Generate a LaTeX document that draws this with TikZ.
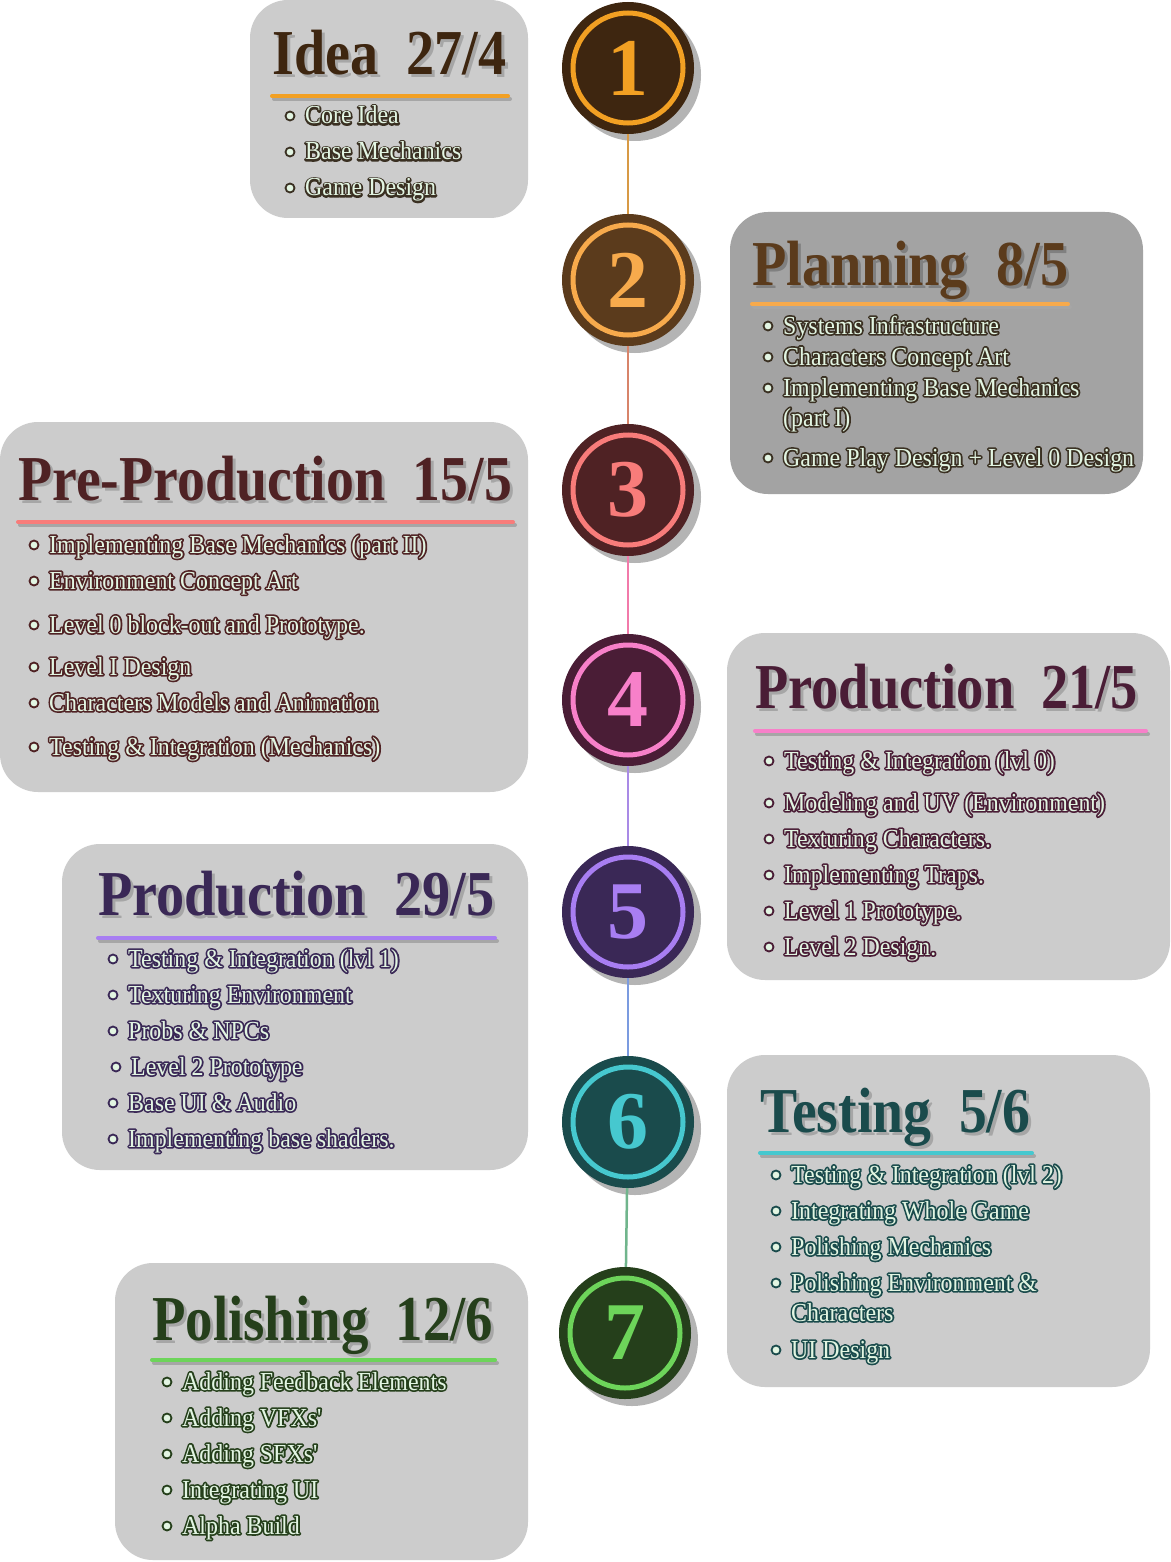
\documentclass[tikz,border=0pt]{standalone}
\usepackage{fontspec}
\setmainfont{Liberation Serif}
\newfontfamily\itemfont{Liberation Serif}[FakeStretch=0.92]
\usepackage{graphicx}
\usepackage{xcolor}
\usepackage{tikz}
\usetikzlibrary{shadows}

% colours
\definecolor{boxgray}{HTML}{CCCCCC}
\definecolor{boxdark}{HTML}{A3A3A3}
\definecolor{tshade}{HTML}{A6A6A6}
\definecolor{cshade}{HTML}{B4B4B4}
\definecolor{mint}{HTML}{E2F5E2}
\definecolor{c1d}{HTML}{3E2610}\definecolor{c1r}{HTML}{F2A023}
\definecolor{c2d}{HTML}{5B3B1C}\definecolor{c2r}{HTML}{F7AA4C}
\definecolor{c3d}{HTML}{4F2224}\definecolor{c3r}{HTML}{F87C7A}
\definecolor{c4d}{HTML}{4A1D36}\definecolor{c4r}{HTML}{F780C9}
\definecolor{c5d}{HTML}{3A2856}\definecolor{c5r}{HTML}{A87EF2}
\definecolor{c6d}{HTML}{1A4B4C}\definecolor{c6r}{HTML}{46C8CF}
\definecolor{c7d}{HTML}{253F1B}\definecolor{c7r}{HTML}{6DD45A}
\definecolor{c1i}{HTML}{3A3022}
\definecolor{l12}{HTML}{D89A45}\definecolor{l23}{HTML}{D8846A}
\definecolor{l34}{HTML}{F27AAA}\definecolor{l45}{HTML}{A98AE6}
\definecolor{l56}{HTML}{7B9BE0}\definecolor{l67}{HTML}{70B58C}

% outline colours of the item texts (rgb for the pdf stroke)
\def\olA{0.227 0.188 0.133}
\def\olC{0.310 0.133 0.141}
\def\olD{0.290 0.114 0.212}
\def\olE{0.227 0.157 0.337}
\def\olF{0.102 0.294 0.298}
\def\olG{0.145 0.247 0.106}

% title with a grey drop copy
\newcommand{\ttl}[3]{{\makebox[0pt][l]{\hspace{3pt}\raisebox{-3pt}{\color{#2}\resizebox{#1}{\height}{#3}}}\resizebox{#1}{\height}{#3}}}

% light text with a dark rim drawn behind it
\newcommand{\rimtext}[2]{\makebox[0pt][l]{\special{pdf:literal direct 1 Tr 3.4 w 1 j #1 RG}#2\special{pdf:literal direct 0 Tr}}#2}

% one bullet line: name, x, y, outline colour, rim rgb, text
\newcommand{\stageitem}[6]{%
  \draw[itembullet, draw=#4] (#2,#3) circle[radius=4.5pt];
  \node[itemtext] (#1) at (#2+15,#3+8) {\rimtext{#5}{#6}};
}

% underline below a title: x1, x2, y, colour
\newcommand{\titlerule}[4]{%
  \draw[uline, draw=tshade] (#1+2,#3+3) -- (#2+2,#3+3);
  \draw[uline, draw=#4] (#1,#3) -- (#2,#3);
}

\begin{document}
\begin{tikzpicture}[x=1pt, y=-1pt,
    stagebox/.style={fill=boxgray, rounded corners=38pt},
    titletext/.style={anchor=base west, inner sep=0pt, font=\fontsize{64}{70}\selectfont\bfseries},
    itemtext/.style={anchor=base west, inner sep=0pt, text=mint, font=\fontsize{26}{30}\itemfont},
    itembullet/.style={fill=mint, line width=1.8pt},
    uline/.style={line width=4pt, line cap=round},
    stagecircle/.style={circle, minimum size=132pt, inner sep=0pt,
      font=\fontsize{82}{82}\selectfont\bfseries,
      drop shadow={shadow xshift=7pt, shadow yshift=-7pt, fill=cshade, opacity=1}},
    ringline/.style={line width=5pt},
    link/.style={line width=2.5pt}]

    \useasboundingbox (0,0) rectangle (1170,1562);
    \fill[white] (0,0) rectangle (1170,1562);

    % Boxes
    \fill[stagebox] (250,0) rectangle (528,218);
    \fill[stagebox, fill=boxdark] (730,212) rectangle (1143,494);
    \fill[stagebox] (0,422) rectangle (528,792);
    \fill[stagebox] (727,633) rectangle (1170,980);
    \fill[stagebox] (62,844) rectangle (528,1170);
    \fill[stagebox] (727,1055) rectangle (1150,1387);
    \fill[stagebox] (115,1263) rectangle (528,1560);

    % Titles
    \node[titletext, text=c1d] (t1) at (272,75) {\ttl{234pt}{tshade}{Idea\ \ 27/4}};
    \node[titletext, text=c2d] (t2) at (752,285) {\ttl{316pt}{gray}{Planning\ \ 8/5}};
    \node[titletext, text=c3d] (t3) at (18,500) {\ttl{494pt}{tshade}{Pre-Production\ \ 15/5}};
    \node[titletext, text=c4d] (t4) at (755,708) {\ttl{383pt}{tshade}{Production\ \ 21/5}};
    \node[titletext, text=c5d] (t5) at (98,915) {\ttl{396pt}{tshade}{Production\ \ 29/5}};
    \node[titletext, text=c6d] (t6) at (760,1132) {\ttl{270pt}{tshade}{Testing\ \ 5/6}};
    \node[titletext, text=c7d] (t7) at (152,1340) {\ttl{341pt}{tshade}{Polishing\ \ 12/6}};

    % Underlines
    \titlerule{272}{508}{96}{c1r}
    \titlerule{752}{1068}{304}{c2r}
    \titlerule{18}{513}{522}{c3r}
    \titlerule{755}{1146}{731}{c4r}
    \titlerule{98}{495}{938}{c5r}
    \titlerule{760}{1032}{1153}{c6r}
    \titlerule{152}{495}{1360}{c7r}

    % Idea
    \stageitem{i1a}{290}{116}{c1i}{\olA}{Core Idea}
    \stageitem{i1b}{290}{152}{c1i}{\olA}{Base Mechanics}
    \stageitem{i1c}{290}{188}{c1i}{\olA}{Game Design}

    % Planning
    \stageitem{i2a}{768}{326}{c1i}{\olA}{Systems Infrastructure}
    \stageitem{i2b}{768}{357}{c1i}{\olA}{Characters Concept Art}
    \stageitem{i2c}{768}{388}{c1i}{\olA}{Implementing Base Mechanics}
    \node[itemtext] (i2d) at (783,426) {\rimtext{\olA}{(part I)}};
    \stageitem{i2e}{768}{458}{c1i}{\olA}{Game Play Design + Level 0 Design}

    % Pre-Production
    \stageitem{i3a}{34}{545}{c3d}{\olC}{Implementing Base Mechanics (part II)}
    \stageitem{i3b}{34}{581}{c3d}{\olC}{Environment Concept Art}
    \stageitem{i3c}{34}{625}{c3d}{\olC}{Level 0 block-out and Prototype.}
    \stageitem{i3d}{34}{667}{c3d}{\olC}{Level I Design}
    \stageitem{i3e}{34}{703}{c3d}{\olC}{Characters Models and Animation}
    \stageitem{i3f}{34}{747}{c3d}{\olC}{Testing \& Integration (Mechanics)}

    % Production 21/5
    \stageitem{i4a}{769}{761}{c4d}{\olD}{Testing \& Integration (lvl 0)}
    \stageitem{i4b}{769}{803}{c4d}{\olD}{Modeling and UV (Environment)}
    \stageitem{i4c}{769}{839}{c4d}{\olD}{Texturing Characters.}
    \stageitem{i4d}{769}{875}{c4d}{\olD}{Implementing Traps.}
    \stageitem{i4e}{769}{911}{c4d}{\olD}{Level 1 Prototype.}
    \stageitem{i4f}{769}{947}{c4d}{\olD}{Level 2 Design.}

    % Production 29/5
    \stageitem{i5a}{113}{959}{c5d}{\olE}{Testing \& Integration (lvl 1)}
    \stageitem{i5b}{113}{995}{c5d}{\olE}{Texturing Environment}
    \stageitem{i5c}{113}{1031}{c5d}{\olE}{Probs \& NPCs}
    \stageitem{i5d}{116}{1067}{c5d}{\olE}{Level 2 Prototype}
    \stageitem{i5e}{113}{1103}{c5d}{\olE}{Base UI \& Audio}
    \stageitem{i5f}{113}{1139}{c5d}{\olE}{Implementing base shaders.}

    % Testing
    \stageitem{i6a}{776}{1175}{c6d}{\olF}{Testing \& Integration (lvl 2)}
    \stageitem{i6b}{776}{1211}{c6d}{\olF}{Integrating Whole Game}
    \stageitem{i6c}{776}{1247}{c6d}{\olF}{Polishing Mechanics}
    \stageitem{i6d}{776}{1283}{c6d}{\olF}{Polishing Environment \&}
    \node[itemtext] (i6e) at (791,1321) {\rimtext{\olF}{Characters}};
    \stageitem{i6f}{776}{1350}{c6d}{\olF}{UI Design}

    % Polishing
    \stageitem{i7a}{167}{1382}{c7d}{\olG}{Adding Feedback Elements}
    \stageitem{i7b}{167}{1418}{c7d}{\olG}{Adding VFXs'}
    \stageitem{i7c}{167}{1454}{c7d}{\olG}{Adding SFXs'}
    \stageitem{i7d}{167}{1490}{c7d}{\olG}{Integrating UI}
    \stageitem{i7e}{167}{1526}{c7d}{\olG}{Alpha Build}

    % Stage circles
    \node[stagecircle, fill=c1d, text=c1r] (s1) at (628,68) {1};
    \node[stagecircle, fill=c2d, text=c2r] (s2) at (628,280) {2};
    \node[stagecircle, fill=c3d, text=c3r] (s3) at (628,490) {3};
    \node[stagecircle, fill=c4d, text=c4r] (s4) at (628,700) {4};
    \node[stagecircle, fill=c5d, text=c5r] (s5) at (628,912) {5};
    \node[stagecircle, fill=c6d, text=c6r] (s6) at (628,1122) {6};
    \node[stagecircle, fill=c7d, text=c7r] (s7) at (625,1333) {7};

    % Rings
    \draw[ringline, draw=c1r] (s1.center) circle[radius=55pt];
    \draw[ringline, draw=c2r] (s2.center) circle[radius=55pt];
    \draw[ringline, draw=c3r] (s3.center) circle[radius=55pt];
    \draw[ringline, draw=c4r] (s4.center) circle[radius=55pt];
    \draw[ringline, draw=c5r] (s5.center) circle[radius=55pt];
    \draw[ringline, draw=c6r] (s6.center) circle[radius=55pt];
    \draw[ringline, draw=c7r] (s7.center) circle[radius=55pt];

    % Timeline
    \draw[link, draw=l12] (s1) -- (s2);
    \draw[link, draw=l23] (s2) -- (s3);
    \draw[link, draw=l34] (s3) -- (s4);
    \draw[link, draw=l45] (s4) -- (s5);
    \draw[link, draw=l56] (s5) -- (s6);
    \draw[link, draw=l67] (s6) -- (s7);

\end{tikzpicture}
\end{document}
